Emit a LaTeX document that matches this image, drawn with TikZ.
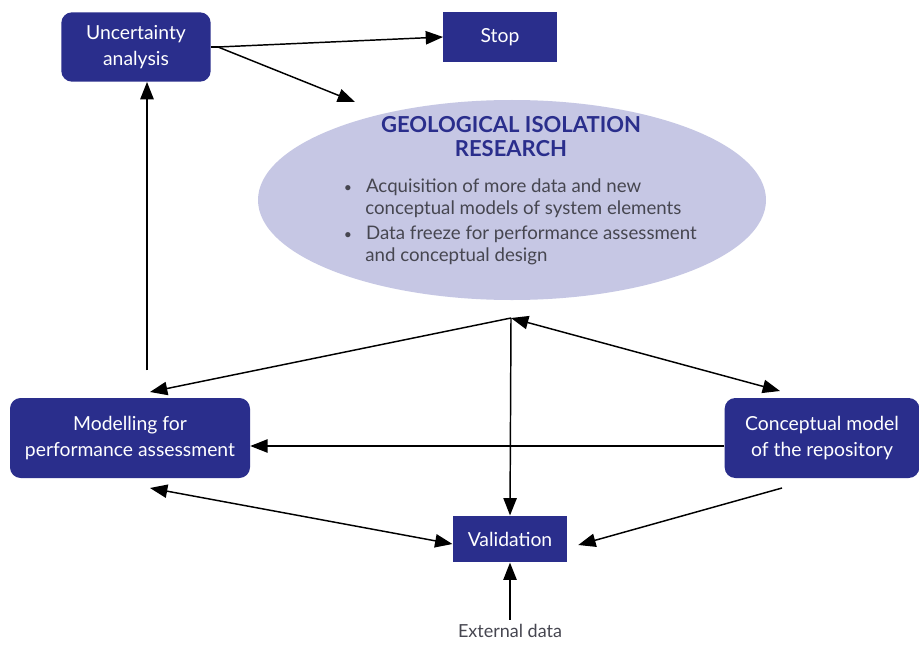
\documentclass[tikz,border=0pt]{standalone}
\usepackage{fontspec}
\setmainfont{Lato}
\usetikzlibrary{arrows.meta,shapes.geometric}
\definecolor{navy}{RGB}{42,46,140}
\definecolor{lav}{RGB}{198,199,228}
\definecolor{txtgray}{RGB}{70,70,80}
\tikzset{
  box/.style={fill=navy,text=white,align=center,font=\fontsize{14.5}{19}\selectfont,inner sep=2pt},
  rbox/.style={box,rounded corners=8pt},
  arr/.style={line width=1.1pt,-{Triangle[length=13pt,width=10pt]}},
  darr/.style={line width=1.1pt,{Triangle[length=13pt,width=10pt]}-{Triangle[length=13pt,width=10pt]}},
}
\begin{document}
\begin{tikzpicture}[x=0.75pt,y=-0.75pt]
\useasboundingbox[fill=white] (0,0) rectangle (919,649);
\node[rbox,minimum width=112pt,minimum height=52pt] (unc) at (136,47) {Uncertainty\\analysis};
\node[box,minimum width=85pt,minimum height=37pt] (stop) at (500,37) {Stop};
\node[ellipse,fill=lav,minimum width=381pt,minimum height=150pt,inner sep=0pt] (geo) at (512,200) {};
\node[text=navy,font=\fontsize{16.5}{18}\selectfont\bfseries,align=center] (title) at (511,137) {GEOLOGICAL ISOLATION\\RESEARCH};
\node[text=txtgray,font=\fontsize{14}{16.5}\selectfont,align=left,anchor=north west] (bul) at (340,174)
  {\raisebox{1pt}{\scalebox{0.7}{$\bullet$}}\hspace{11pt}Acquisition of more data and new\\
   \hspace{15.5pt}conceptual models of system elements\\[2.5pt]
   \raisebox{1pt}{\scalebox{0.7}{$\bullet$}}\hspace{11pt}Data freeze for performance assessment\\
   \hspace{15.5pt}and conceptual design};
\node[rbox,minimum width=180pt,minimum height=60pt] (mod) at (130,438) {Modelling for\\performance assessment};
\node[rbox,minimum width=146pt,minimum height=60pt] (con) at (822,438) {Conceptual model\\of the repository};
\node[box,minimum width=86pt,minimum height=35pt] (val) at (510,539) {Validation};
\node[text=txtgray,font=\fontsize{13.5}{15}\selectfont] (ext) at (510,631) {External data};
\coordinate (hub) at (511,318);
\coordinate (ua) at (218,47);
\coordinate (ub) at (147,370);
% connectors
\draw[line width=1.1pt] (unc.east) -- (ua);
\draw[arr] (ua) -- (stop.west);
\draw[arr] (ua) -- (355,102);
\draw[line width=1.1pt] (ub) -- (147,92);
\draw[arr] (ub) -- (unc.south -| ub);
\draw[arr] (hub) -- (150,392);
\draw[darr] (hub) -- (780,391);
\draw[arr] (hub) -- (val.north);
\draw[arr] (con.west |- 0,446) -- (mod.east |- 0,446);
\draw[darr] (150,488) -- (val.west |- 0,544);
\draw[arr] (782,488) -- ([xshift=8pt]val.east |- 0,545);
\draw[arr] (ext.north) -- (val.south);
\end{tikzpicture}
\end{document}
